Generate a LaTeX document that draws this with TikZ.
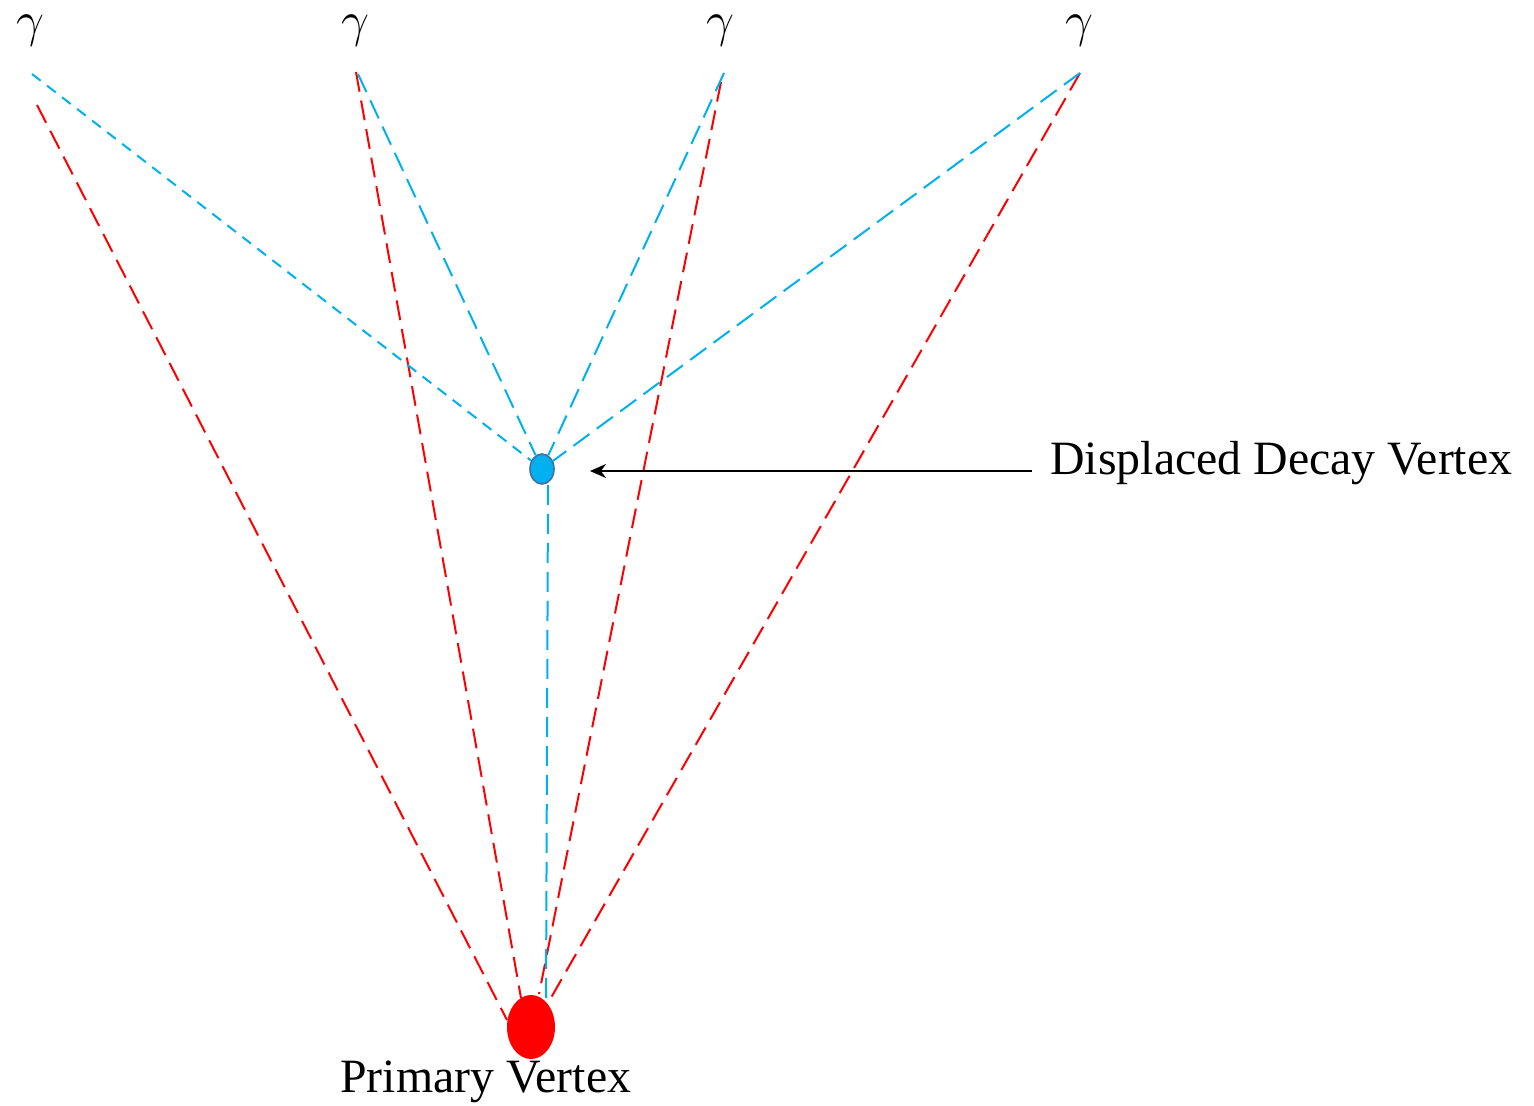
\documentclass[tikz,border=0pt]{standalone}
\usepackage{fontspec}
\setmainfont{Liberation Serif}
\usetikzlibrary{shapes.geometric,arrows.meta}
\definecolor{tred}{RGB}{255,0,0}
\definecolor{tblue}{RGB}{0,176,240}
\definecolor{tedge}{RGB}{65,113,156}
\begin{document}
\begin{tikzpicture}[x=0.5pt,y=-0.5pt,
  redtrack/.style={draw=tred,line width=1pt,dash pattern=on 10pt off 4.5pt},
  bluetrack/.style={draw=tblue,line width=1pt,dash pattern=on 10pt off 4.5pt},
  bluetrackshort/.style={draw=tblue,line width=1pt,dash pattern=on 5.5pt off 4pt},
  gammalabel/.style={inner sep=0pt,font=\fontsize{26}{30}\selectfont},
  biglabel/.style={inner sep=0pt,font=\fontsize{23.9}{28}\selectfont}]
\useasboundingbox (0,0) rectangle (1534,1106);
% gamma labels
\node[gammalabel] (g1) at (30,31) {$\gamma$};
\node[gammalabel] (g2) at (355,31) {$\gamma$};
\node[gammalabel] (g3) at (720,31) {$\gamma$};
\node[gammalabel] (g4) at (1079,31) {$\gamma$};
% track endpoints at top
\coordinate (t1b) at (32,74);
\coordinate (t1r) at (37,105);
\coordinate (t2r) at (356,72);
\coordinate (t2b) at (358,74);
\coordinate (t3b) at (724,73);
\coordinate (t3r) at (721,82);
\coordinate (t4b) at (1080,73);
\coordinate (t4r) at (1080,73);
% track endpoints near primary vertex
\coordinate (p1) at (507,1020);
\coordinate (p2) at (521,998);
\coordinate (p3) at (539,994);
\coordinate (p4) at (548,1003);
\coordinate (pb) at (546,1000);
% vertices
\node[ellipse,fill=tblue,draw=tedge,line width=0.8pt,minimum width=12pt,minimum height=15pt,inner sep=0pt] (dv) at (542,469) {};
% red tracks
\draw[redtrack] (t1r) -- (p1);
\draw[redtrack] (t2r) -- (p2);
\draw[redtrack] (t3r) -- (p3);
\draw[redtrack] (t4r) -- (p4);
% blue tracks
\draw[bluetrackshort] (t1b) -- (dv);
\draw[bluetrack] (t2b) -- (dv);
\draw[bluetrack] (t3b) -- (dv);
\draw[bluetrack] (t4b) -- (dv);
\draw[bluetrack] ([xshift=3pt]dv.south) -- (pb);
\node[ellipse,fill=tred,minimum width=24pt,minimum height=32pt,inner sep=0pt] (pv) at (531,1027) {};
% labels
\node[biglabel,anchor=base west] (dvl) at (1050,474) {Displaced Decay Vertex};
\node[biglabel,anchor=base west] (pvl) at (340,1092) {Primary Vertex};
\coordinate (arrstart) at (1032,471);
\coordinate (arrend) at (590,471);
\draw[line width=1pt,-{Stealth[length=8pt,width=7pt]}] (arrstart) -- (arrend);
\end{tikzpicture}
\end{document}
